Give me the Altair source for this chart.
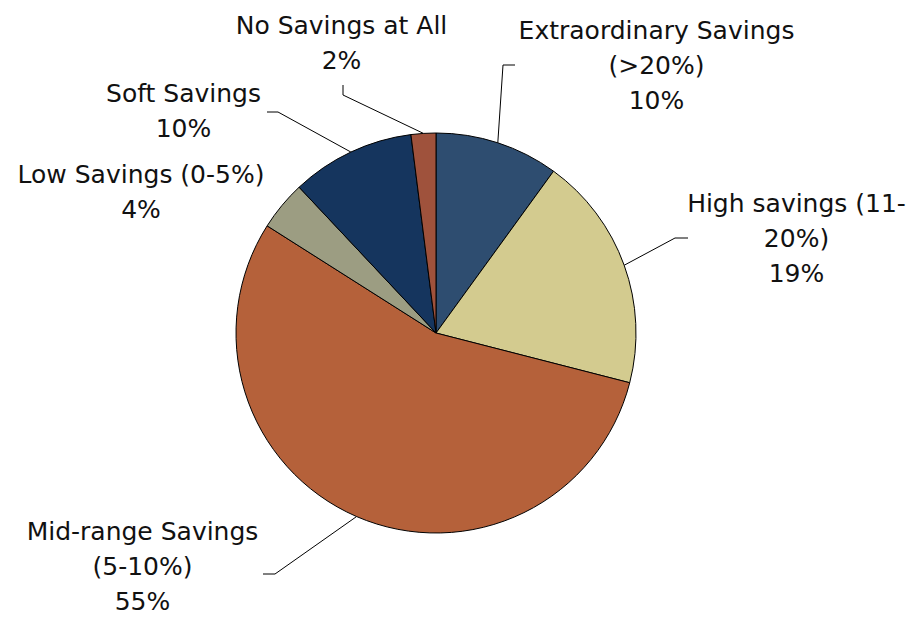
import altair as alt
import pandas as pd

# ---- data ----
categories = [
    "Extraordinary Savings (>20%)",
    "High savings (11-20%)",
    "Mid-range Savings (5-10%)",
    "Low Savings (0-5%)",
    "Soft Savings",
    "No Savings at All",
]
values = [10, 19, 55, 4, 10, 2]
label_lines = [
    ["Extraordinary Savings", "(>20%)"],
    ["High savings (11-", "20%)"],
    ["Mid-range Savings", "(5-10%)"],
    ["Low Savings (0-5%)"],
    ["Soft Savings"],
    ["No Savings at All"],
]

# ---- styles ----
colors = ["#2E4D70", "#D3CB8F", "#B5613A", "#9C9D82", "#15355E", "#9F523C"]

# ---- layout (plot-area pixels) ----
CX, CY, R = 428, 325, 200
label_pos = [(648.5, 31), (788.5, 204), (134.5, 532), (133, 175), (175.5, 94), (333.5, 26)]
leader_elbow = [(495, 57), (667, 230), (267, 566), None, (270, 104), (335, 87)]
leader_end = [(507, 57), (680, 230), (255, 566), None, (259, 104), (335, 77)]

rows = []
for i, (c, v) in enumerate(zip(categories, values)):
    e = leader_elbow[i]
    h = leader_end[i]
    rows.append(
        dict(
            category=c,
            value=v,
            order=i,
            label="\n".join(label_lines[i] + [f"{v}%"]),
            lx=label_pos[i][0],
            ly=label_pos[i][1],
            ex=e[0] if e else None,
            ey=e[1] if e else None,
            hx=h[0] if h else None,
            hy=h[1] if h else None,
        )
    )
df = pd.DataFrame(rows)

base = alt.Chart(df)

arcs = base.mark_arc(radius=R, stroke="#000000", strokeWidth=1).encode(
    theta=alt.Theta("value:Q", stack=True),
    color=alt.Color(
        "category:N",
        scale=alt.Scale(domain=categories, range=colors),
        legend=None,
    ),
    order=alt.Order("order:Q"),
    x=alt.value(CX),
    y=alt.value(CY),
)

leaders_base = (
    base.transform_joinaggregate(total="sum(value)")
    .transform_window(cum="sum(value)", sort=[alt.SortField("order")], frame=[None, 0])
    .transform_calculate(
        ang="2*PI*(datum.cum - datum.value/2)/datum.total",
        ax=f"{CX}+{R}*sin(datum.ang)",
        ay=f"{CY}-{R}*cos(datum.ang)",
    )
    .transform_filter("isValid(datum.ex)")
)

seg1 = leaders_base.mark_rule(color="#000000", strokeWidth=1).encode(
    x=alt.X("ax:Q", scale=None, axis=None),
    y=alt.Y("ay:Q", scale=None, axis=None),
    x2="ex:Q",
    y2="ey:Q",
)
seg2 = leaders_base.mark_rule(color="#000000", strokeWidth=1).encode(
    x=alt.X("ex:Q", scale=None, axis=None),
    y=alt.Y("ey:Q", scale=None, axis=None),
    x2="hx:Q",
    y2="hy:Q",
)

labels = base.mark_text(
    font="DejaVu Sans",
    fontSize=25,
    lineBreak="\n",
    lineHeight=35,
    align="center",
    baseline="alphabetic",
    color="#111111",
).encode(
    x=alt.X("lx:Q", scale=None, axis=None),
    y=alt.Y("ly:Q", scale=None, axis=None),
    text="label:N",
)

chart = (
    alt.layer(arcs, seg1, seg2, labels)
    .properties(width=898, height=610, autosize="none", padding=0, background="white")
    .configure_view(stroke=None)
)

chart.save("out.html", embed_options={"renderer": "svg", "actions": False})
